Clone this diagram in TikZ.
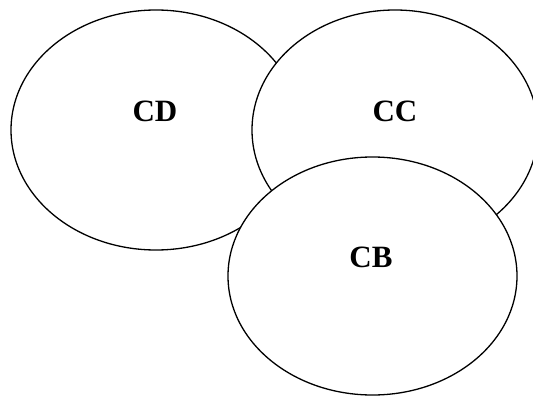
\documentclass[tikz,border=0pt]{standalone}
\usepackage{fontspec}
\setmainfont{Liberation Serif}
\usetikzlibrary{shapes.geometric}
\begin{document}
\begin{tikzpicture}[x=1pt,y=-1pt,
  blob/.style={draw=black,fill=white,line width=1.3pt},
  tag/.style={font=\fontsize{31}{31}\selectfont\bfseries,inner sep=0pt}]
\useasboundingbox (0,0) rectangle (533,396);
% three overlapping sets, later ones drawn on top
\filldraw[blob] (156,130) ellipse [x radius=145, y radius=120];
\filldraw[blob] (395,130) ellipse [x radius=143, y radius=120];
\filldraw[blob] (372.5,276) ellipse [x radius=144.5, y radius=119];
\node[tag] (cd) at (155,111) {CD};
\node[tag] (cc) at (395,111) {CC};
\node[tag] (cb) at (371,257) {CB};
\end{tikzpicture}
\end{document}
